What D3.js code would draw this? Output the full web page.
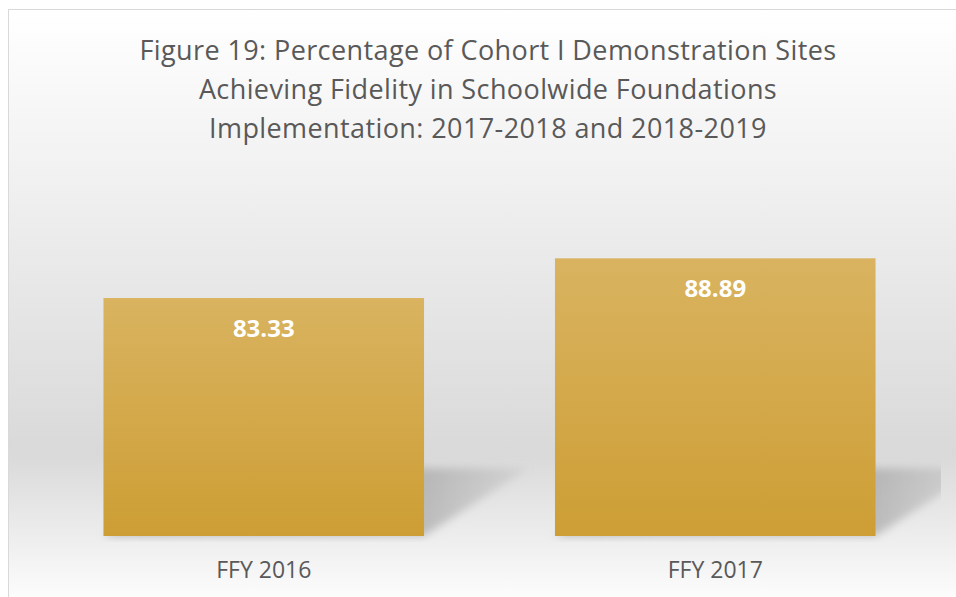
<!DOCTYPE html>
<html>
<head>
<meta charset="utf-8">
<script src="https://cdn.jsdelivr.net/npm/d3@7"></script>
<style>
  body { margin: 0; background: #fff; }
  svg { display: block; }
</style>
</head>
<body>
<div id="bar-chart"></div>
<script>
// chart data
const categories = ["FFY 2016", "FFY 2017"];
const values = [83.33, 88.89];
const titleLines = [
  "Figure 19: Percentage of Cohort I Demonstration Sites",
  "Achieving Fidelity in Schoolwide Foundations",
  "Implementation: 2017-2018 and 2018-2019"
];
const yDomain = [50, 100];

let drawChart = () => {
  const width = 956, height = 597;
  const plot = {left: 38, right: 941, top: 179, bottom: 536};

  const svg = d3.select("#bar-chart")
    .append("svg")
    .attr("width", width)
    .attr("height", height);

  const defs = svg.append("defs");

  // chart background: white -> grey -> white
  const bg = defs.append("linearGradient")
    .attr("id", "bg-grad")
    .attr("x1", 0).attr("y1", 0).attr("x2", 0).attr("y2", 1);
  bg.append("stop").attr("offset", "0%").attr("stop-color", "#ffffff");
  bg.append("stop").attr("offset", "74%").attr("stop-color", "#d9d9d9");
  bg.append("stop").attr("offset", "100%").attr("stop-color", "#ffffff");

  // gold bar fill
  const barGrad = defs.append("linearGradient")
    .attr("id", "bar-grad")
    .attr("x1", 0).attr("y1", 0).attr("x2", 0).attr("y2", 1);
  barGrad.append("stop").attr("offset", "0%").attr("stop-color", "#d9b360");
  barGrad.append("stop").attr("offset", "100%").attr("stop-color", "#cd9e34");

  // shadow fades out away from the bar
  const shGrad = defs.append("linearGradient")
    .attr("id", "shadow-grad")
    .attr("x1", 0).attr("y1", 0).attr("x2", 1).attr("y2", 0);
  shGrad.append("stop").attr("offset", "0%").attr("stop-color", "#9c9c9c").attr("stop-opacity", 0.7);
  shGrad.append("stop").attr("offset", "75%").attr("stop-color", "#9c9c9c").attr("stop-opacity", 0.6);
  shGrad.append("stop").attr("offset", "100%").attr("stop-color", "#9c9c9c").attr("stop-opacity", 0.15);

  const blur = defs.append("filter")
    .attr("id", "shadow-blur")
    .attr("x", "-20%").attr("y", "-20%").attr("width", "140%").attr("height", "140%");
  blur.append("feGaussianBlur").attr("stdDeviation", 4);

  defs.append("clipPath").attr("id", "plot-clip")
    .append("rect")
    .attr("x", plot.left).attr("y", plot.top)
    .attr("width", plot.right - plot.left)
    .attr("height", plot.bottom - plot.top + 6);

  svg.append("rect")
    .attr("x", 8.5).attr("y", 9.5)
    .attr("width", 960).attr("height", 600)
    .attr("fill", "url(#bg-grad)")
    .attr("stroke", "#d9d9d9")
    .attr("stroke-width", 1);

  // scales
  const x = d3.scaleBand()
    .domain(categories)
    .range([plot.left, plot.right])
    .paddingInner(0.29)
    .paddingOuter(0.145);

  const y = d3.scaleLinear()
    .domain(yDomain)
    .range([plot.bottom, plot.top]);

  const data = categories.map((c, i) => ({cat: c, value: values[i]}));

  // perspective shadows behind the bars
  const shH = 68, shDx = 105;
  svg.append("g")
    .attr("clip-path", "url(#plot-clip)")
    .selectAll("polygon")
    .data(data)
    .join("polygon")
    .attr("points", d => {
      const x0 = x(d.cat), x1 = x(d.cat) + x.bandwidth(), b = y(yDomain[0]);
      return [[x0, b], [x1, b], [x1 + shDx, b - shH], [x0 + shDx, b - shH]]
        .map(p => p.join(",")).join(" ");
    })
    .attr("fill", "url(#shadow-grad)")
    .attr("filter", "url(#shadow-blur)");

  // bars
  svg.append("g")
    .selectAll("rect")
    .data(data)
    .join("rect")
    .attr("x", d => x(d.cat))
    .attr("y", d => y(d.value))
    .attr("width", x.bandwidth())
    .attr("height", d => y(yDomain[0]) - y(d.value))
    .attr("fill", "url(#bar-grad)");

  // value labels
  svg.append("g")
    .selectAll("text")
    .data(data)
    .join("text")
    .attr("x", d => x(d.cat) + x.bandwidth() / 2)
    .attr("y", d => y(d.value) + 39)
    .attr("text-anchor", "middle")
    .attr("font-family", "'Open Sans', sans-serif")
    .attr("font-weight", "bold")
    .attr("font-size", 24)
    .attr("fill", "#ffffff")
    .text(d => d.value.toFixed(2));

  // x axis (labels only)
  const xAxis = svg.append("g")
    .attr("transform", "translate(0," + plot.bottom + ")")
    .call(d3.axisBottom(x).tickSize(0).tickPadding(42));
  xAxis.select(".domain").remove();
  xAxis.selectAll("text")
    .attr("dy", 0)
    .attr("font-family", "'Open Sans', sans-serif")
    .attr("font-size", 23)
    .attr("fill", "#595959");

  // title
  svg.append("g")
    .selectAll("text")
    .data(titleLines)
    .join("text")
    .attr("x", 488)
    .attr("y", (d, i) => 60 + i * 39)
    .attr("text-anchor", "middle")
    .attr("font-family", "'Open Sans', sans-serif")
    .attr("font-size", 27)
    .attr("letter-spacing", 0.4)
    .attr("fill", "#595959")
    .text(d => d);
};

drawChart();
</script>
</body>
</html>
